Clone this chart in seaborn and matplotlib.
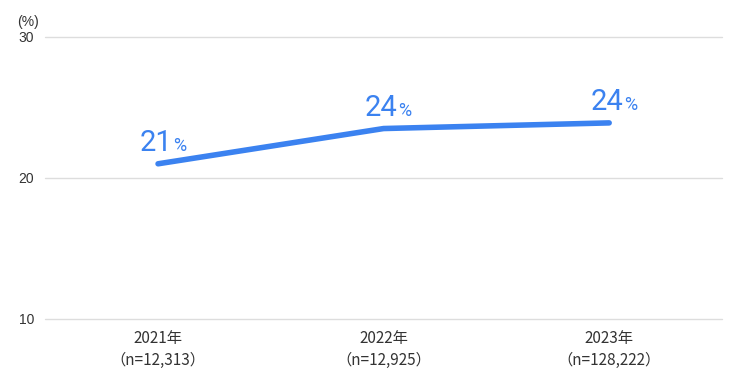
import matplotlib
matplotlib.use("Agg")
import matplotlib.pyplot as plt
import seaborn as sns
import pandas as pd

years = ["2021年", "2022年", "2023年"]
samples = ["（n=12,313）", "（n=12,925）", "（n=128,222）"]
rates = [21.0, 23.5, 23.9]
rate_labels = ["21", "24", "24"]
y_ticks = [10, 20, 30]

blue = "#3b82f0"

sns.set_theme(style="white")
plt.rcParams['font.family'] = ['Liberation Sans', 'Noto Sans CJK JP', 'DejaVu Sans']

df = pd.DataFrame({"label": [y + "\n" + s for y, s in zip(years, samples)],
                   "rate": rates})

fig = plt.figure(figsize=(7.42, 3.88), dpi=100)
ax = fig.add_axes([0.061, 0.178, 0.912, 0.727])

sns.lineplot(data=df, x="label", y="rate", ax=ax, color=blue, linewidth=4,
             solid_capstyle="round", sort=False)

ax.set_ylim(10, 30)
ax.set_xlim(-0.5, 2.5)
ax.set_yticks(y_ticks)
ax.set_yticklabels([str(t) for t in y_ticks], fontsize=10, color="#333333")
ax.yaxis.grid(True, color="#dddddd", linewidth=1)
for g in ax.yaxis.get_gridlines():
    g.set_clip_on(False)
ax.set_axisbelow(True)
for s in ax.spines.values():
    s.set_visible(False)
ax.tick_params(axis="y", length=0, pad=8)
ax.tick_params(axis="x", length=0, pad=8)
ax.set_xlabel("")
ax.set_ylabel("")
for lab in ax.get_xticklabels():
    lab.set_fontfamily(['Noto Sans CJK JP', 'DejaVu Sans'])
    lab.set_fontsize(11)
    lab.set_color("#333333")
    lab.set_linespacing(1.35)

for i, (v, t) in enumerate(zip(rates, rate_labels)):
    ax.annotate(t, (i, v), xytext=(14, 13), textcoords="offset pixels",
                ha="right", va="baseline", fontsize=21, color=blue,
                family=['Roboto', 'DejaVu Sans'])
    ax.annotate("%", (i, v), xytext=(15, 13), textcoords="offset pixels",
                ha="left", va="baseline", fontsize=13, color=blue,
                family=['Roboto', 'DejaVu Sans'])

fig.text(28 / 742, 1 - 22 / 388, "(%)", ha="center", va="center",
         fontsize=10, color="#333333")

fig.savefig("out.png", dpi=100)
